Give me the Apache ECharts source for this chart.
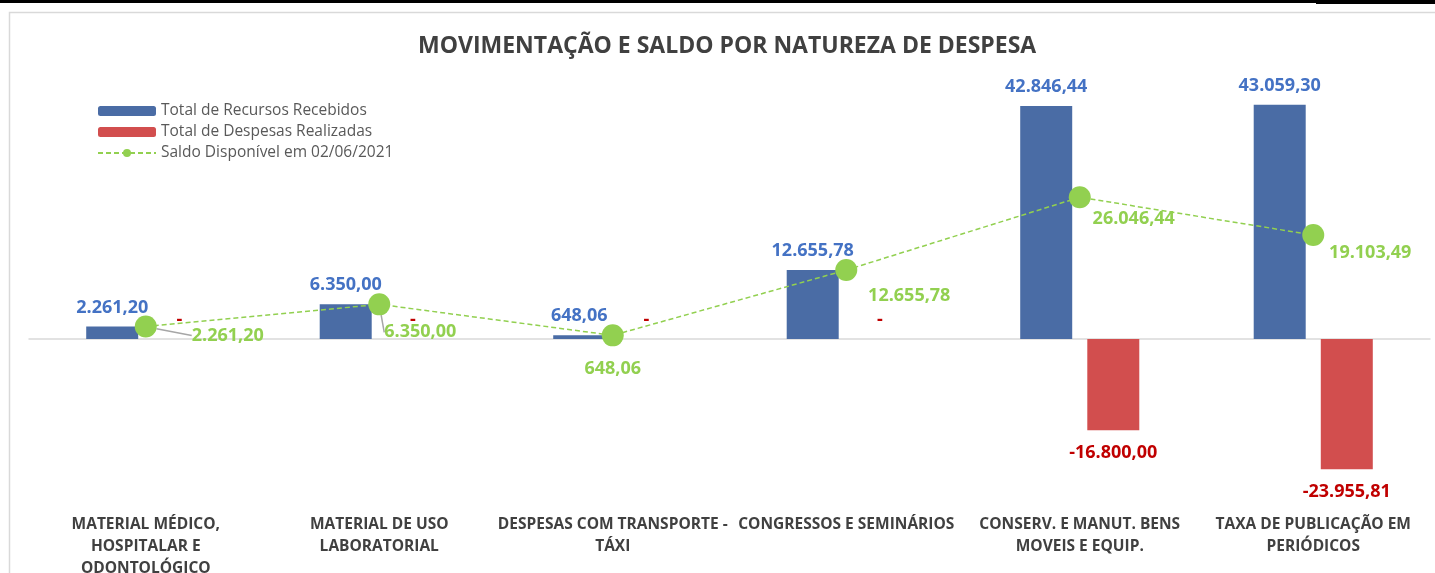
<!DOCTYPE html>
<html>
<head>
<meta charset="utf-8">
<script src="https://cdn.jsdelivr.net/npm/echarts@6/dist/echarts.min.js"></script>
<style>
html,body{margin:0;padding:0;background:#fff;}
#chart{width:1435px;height:573px;}
</style>
</head>
<body>
<div id="chart"></div>
<script>
const categories = [
  'MATERIAL MÉDICO,\nHOSPITALAR E\nODONTOLÓGICO',
  'MATERIAL DE USO\nLABORATORIAL',
  'DESPESAS COM TRANSPORTE -\nTÁXI',
  'CONGRESSOS E SEMINÁRIOS',
  'CONSERV. E MANUT. BENS\nMOVEIS E EQUIP.',
  'TAXA DE PUBLICAÇÃO EM\nPERIÓDICOS'
];
const recebidos = [2261.20, 6350.00, 648.06, 12655.78, 42846.44, 43059.30];
const despesas = [0, 0, 0, 0, -16800.00, -23955.81];
const saldo = [2261.20, 6350.00, 648.06, 12655.78, 26046.44, 19103.49];
const seriesNames = ['Total de Recursos Recebidos', 'Total de Despesas Realizadas', 'Saldo Disponível em 02/06/2021'];
// label displacement for saldo labels (px)
const saldoLabelShift = [[82, 9], [41, 28], [0, 34], [63, 26], [54, 22], [57, 18]];

function fmt(v) {
  if (v === 0) return '-';
  const neg = v < 0;
  const a = Math.abs(v).toFixed(2).split('.');
  const int = a[0].replace(/\B(?=(\d{3})+(?!\d))/g, '.');
  return (neg ? '-' : '') + int + ',' + a[1];
}

const FONT = 'Open Sans';
const chart = echarts.init(document.getElementById('chart'));
chart.setOption({
  animation: false,
  backgroundColor: '#ffffff',
  textStyle: { fontFamily: FONT },
  title: {
    text: 'MOVIMENTAÇÃO E SALDO POR NATUREZA DE DESPESA',
    left: 418, top: 35, padding: 0,
    textStyle: { fontFamily: FONT, fontWeight: 'bold', fontSize: 23, color: '#404040' }
  },
  legend: {
    orient: 'vertical',
    left: 97, top: 103, padding: 0,
    itemWidth: 58, itemHeight: 10, itemGap: 5,
    textStyle: { fontFamily: FONT, fontSize: 15.5, color: '#595959' },
    data: seriesNames
  },
  graphic: [
    { type: 'rect', shape: { x: 0, y: 0, width: 1435, height: 3 }, style: { fill: '#000' }, silent: true },
    { type: 'rect', shape: { x: 1316, y: 0, width: 119, height: 4 }, style: { fill: '#000' }, silent: true },
    { type: 'rect', shape: { x: 9.5, y: 12.5, width: 1500, height: 700 }, style: { fill: 'none', stroke: '#D9D9D9', lineWidth: 1.5 }, silent: true }
  ],
  grid: { left: 29, right: 5, top: 67, bottom: 71, containLabel: false, outerBoundsMode: 'none' },
  xAxis: [
    {
      type: 'category', data: categories,
      axisLine: { show: false, onZero: false }, axisTick: { show: false },
      axisLabel: { interval: 0, margin: 12, fontFamily: FONT, fontWeight: 'bold', fontSize: 15.5, color: '#404040', lineHeight: 22 }
    },
    {
      type: 'category', data: categories, position: 'bottom',
      axisLine: { show: true, onZero: true, lineStyle: { color: '#D9D9D9', width: 1.5 } },
      axisTick: { show: false }, axisLabel: { show: false }
    }
  ],
  yAxis: { type: 'value', min: -30000, max: 50000, show: false, splitLine: { show: false } },
  series: [
    {
      name: seriesNames[0], type: 'bar', xAxisIndex: 0,
      barWidth: 52, barGap: '29%',
      itemStyle: { color: '#4A6CA5' },
      label: {
        show: true, position: 'top', distance: 10,
        fontFamily: FONT, fontWeight: 'bold', fontSize: 18, color: '#4472C4',
        formatter: p => fmt(p.value)
      },
      data: recebidos
    },
    {
      name: seriesNames[1], type: 'bar', xAxisIndex: 0,
      barWidth: 52,
      itemStyle: { color: '#D24E4E' },
      label: {
        show: true, distance: 11,
        fontFamily: FONT, fontWeight: 'bold', fontSize: 18, color: '#C00000',
        formatter: p => fmt(p.value)
      },
      data: despesas.map(v => ({ value: v, label: { position: v < 0 ? 'bottom' : 'top', distance: v < 0 ? 14 : 10 } }))
    },
    {
      name: seriesNames[2], type: 'line', xAxisIndex: 0,
      symbol: 'circle', symbolSize: 22,
      itemStyle: { color: '#92D050' },
      lineStyle: { color: '#92D050', width: 1.5, type: [5, 3] },
      z: 5,
      label: {
        show: true, position: 'inside',
        fontFamily: FONT, fontWeight: 'bold', fontSize: 18, color: '#92D050',
        formatter: p => fmt(p.value)
      },
      labelLine: { show: false, lineStyle: { color: '#A6A6A6', width: 1.5 } },
      labelLayout: p => ({ dx: saldoLabelShift[p.dataIndex][0], dy: saldoLabelShift[p.dataIndex][1] }),
      data: saldo.map((v, i) => ({ value: v, labelLine: { show: i < 2 } }))
    }
  ]
});
</script>
</body>
</html>
